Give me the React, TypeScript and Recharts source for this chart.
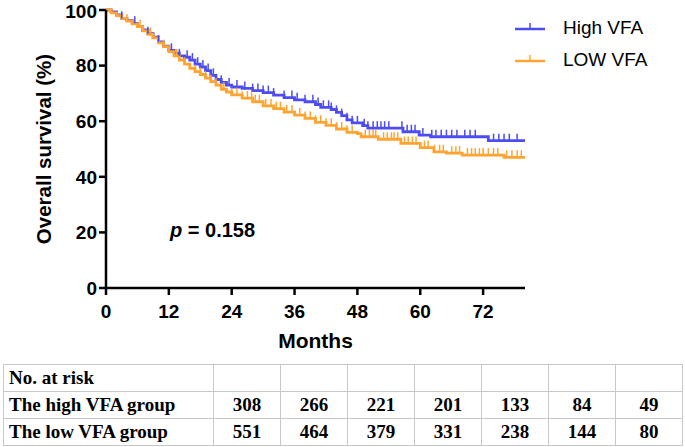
import React from 'react';
import { LineChart, Line, XAxis, YAxis, Legend } from 'recharts';

const SANS = '"Liberation Sans", Arial, Helvetica, sans-serif';
const SERIF = '"Liberation Serif", "Times New Roman", serif';

const BLUE = '#4c4cf2';
const ORANGE = '#ffa431';

const monthTicks = [0, 12, 24, 36, 48, 60, 72];
const survivalTicks = [0, 20, 40, 60, 80, 100];

const highName = 'High VFA';
const lowName = 'LOW VFA';

const highTimes = [0, 1, 2, 3, 4, 5, 6, 7, 8, 9, 10, 11, 12, 13, 14, 15, 16, 17, 18, 19, 20, 21, 22, 23, 24, 26, 28, 30, 32, 34, 36, 38, 40, 41, 43, 44, 45, 46, 47, 49, 50, 56.7, 59.8, 62, 73, 80];
const highSurv = [100, 99.3, 98.2, 97, 96.2, 95.2, 94, 92.8, 91.5, 90.2, 88.5, 87, 85.5, 84.5, 83.5, 83, 82, 80.5, 79.5, 78.2, 76.5, 75, 74, 73, 72.3, 71.8, 71, 70.3, 69.4, 68.5, 67.7, 67, 66, 65, 64.2, 63.2, 62, 60.5, 59.4, 58.4, 57.5, 56.2, 55, 54.4, 53, 53];

const lowTimes = [0, 1, 2, 3, 4, 5, 6, 7, 8, 9, 10, 11, 12, 13, 14, 15, 16, 17, 18, 19, 20, 21, 22, 23, 24, 26, 28, 30, 32, 34, 36, 38, 40, 42, 44, 46, 48, 48.7, 52, 56.3, 60, 62.6, 65, 68, 76, 80];
const lowSurv = [100, 99, 98, 97, 96, 95, 94, 92.5, 91.2, 90, 88.2, 86.8, 85, 83.5, 82, 80.5, 79, 77.8, 76.8, 75.5, 74.2, 73, 71.5, 70.5, 69.5, 68.3, 67, 65.5, 64.5, 63.3, 62.2, 61, 59.6, 58.5, 57.2, 56, 55.5, 54.4, 53.5, 52, 50.5, 49, 48.5, 47.8, 47, 47];

const highCensor = [3, 5.5, 8, 10, 12.5, 14, 15.5, 16.5, 17.5, 18.5, 19.5, 20.5, 22, 23.5, 25, 26.5, 28, 29, 30, 31, 32, 34, 35.5, 36.5, 38, 39.5, 40.5, 41.5, 42.5, 43, 44, 45, 46, 47, 48, 49.3, 50, 51, 51.8, 52.5, 53.2, 54, 56.5, 57.5, 58.3, 59, 60.5, 62.2, 63, 64, 65, 66, 67, 68.5, 69.5, 70.5, 74, 75, 76, 77, 78.5];
const lowCensor = [4, 6.5, 8.5, 11, 13.5, 15, 17, 18, 19, 20, 21, 22.5, 24, 25, 26, 27, 27.8, 28.5, 29.3, 30.5, 31.5, 32.5, 33.3, 34.5, 35.5, 37, 38, 39, 40, 41, 42, 43, 44, 45, 46, 47, 49.5, 50.3, 51, 51.5, 53, 53.7, 54.5, 55, 55.7, 57, 57.7, 58.5, 59.2, 60.8, 61.5, 62.7, 63.7, 64.4, 66, 66.8, 67.5, 69, 69.8, 70.5, 71.3, 72, 73, 74, 74.8, 76.5, 77.5, 78.5, 79.3];

const riskLabel = 'No. at risk';
const riskGroups = ['The high VFA group', 'The low VFA group'];
const highRisk = [308, 266, 221, 201, 133, 84, 49];
const lowRisk = [551, 464, 379, 331, 238, 144, 80];

const pLabel = '0.158';

const toSeries = (times: number[], surv: number[]) => times.map((t, i) => ({ t, s: surv[i] }));
const stepValue = (times: number[], surv: number[], t: number) => {
  let v = surv[0];
  for (let i = 0; i < times.length; i++) {
    if (times[i] <= t) v = surv[i];
  }
  return v;
};
const toCensor = (cens: number[], times: number[], surv: number[]) =>
  cens.map((t) => ({ t, s: stepValue(times, surv, t) }));

const highData = toSeries(highTimes, highSurv);
const lowData = toSeries(lowTimes, lowSurv);
const highCensorData = toCensor(highCensor, highTimes, highSurv);
const lowCensorData = toCensor(lowCensor, lowTimes, lowSurv);

const makeTick = (color: string) => (props: any) => {
  const { cx, cy, index } = props;
  if (cx == null || cy == null) return <g key={`k${index}`} />;
  return <line key={`c${index}`} x1={cx} y1={cy} x2={cx} y2={cy - 7} stroke={color} strokeWidth={1.5} />;
};

const legendItems = [
  { name: highName, color: BLUE },
  { name: lowName, color: ORANGE },
];

const renderLegend = () => (
  <div style={{ fontFamily: SANS }}>
    {legendItems.map((it) => (
      <div key={it.name} style={{ display: 'flex', alignItems: 'center', height: 32 }}>
        <svg width={36} height={14} style={{ display: 'block' }}>
          <line x1={3} y1={8} x2={33} y2={8} stroke={it.color} strokeWidth={2.5} />
          <line x1={18} y1={8} x2={18} y2={2} stroke={it.color} strokeWidth={1.5} />
        </svg>
        <span style={{ marginLeft: 15, fontSize: 19, color: '#000', lineHeight: '20px' }}>{it.name}</span>
      </div>
    ))}
  </div>
);

const tickStyle = { fill: '#000', fontSize: 19, fontWeight: 'bold' as const, fontFamily: SANS };

const cellBase: React.CSSProperties = {
  border: '1px solid #c8c8c8',
  height: 26,
  padding: 0,
  fontFamily: SERIF,
  fontWeight: 'bold',
  fontSize: 19,
  color: '#000',
};

export default function App() {
  return (
    <div style={{ position: 'absolute', left: 0, top: 0, width: 685, height: 447, background: '#fff', overflow: 'hidden' }}>
      <LineChart width={685} height={360} margin={{ top: 10, right: 160, bottom: 0, left: 0 }}>
        <XAxis
          dataKey="t"
          type="number"
          domain={[0, 80]}
          ticks={monthTicks}
          height={72}
          tickSize={7}
          tickMargin={10}
          axisLine={{ stroke: '#000', strokeWidth: 2.5 }}
          tickLine={{ stroke: '#000', strokeWidth: 2.5 }}
          tick={tickStyle}
          allowDuplicatedCategory={false}
          label={(p: any) => {
            const vb = p.viewBox || { x: 106, width: 419 };
            return (
              <text x={vb.x + vb.width / 2} y={340} textAnchor="middle" dominantBaseline="central" fontFamily={SANS} fontWeight="bold" fontSize={21} fill="#000">
                Months
              </text>
            );
          }}
        />
        <YAxis
          type="number"
          domain={[0, 100]}
          ticks={survivalTicks}
          width={106}
          tickSize={7}
          tickMargin={2}
          axisLine={{ stroke: '#000', strokeWidth: 2.5 }}
          tickLine={{ stroke: '#000', strokeWidth: 2.5 }}
          tick={tickStyle}
          label={(p: any) => {
            const vb = p.viewBox || { y: 10, height: 278 };
            const cy = vb.y + vb.height / 2;
            return (
              <text x={43} y={cy} transform={`rotate(-90 43 ${cy})`} textAnchor="middle" dominantBaseline="central" fontFamily={SANS} fontWeight="bold" fontSize={20.5} fill="#000">
                Overall survival (%)
              </text>
            );
          }}
        />
        <Legend
          layout="vertical"
          align="center"
          verticalAlign="middle"
          content={renderLegend}
          wrapperStyle={{ left: 512, top: 12, width: 170, height: 70 }}
        />
        <Line data={highData} dataKey="s" type="stepAfter" stroke={BLUE} strokeWidth={2.8} dot={false} activeDot={false} isAnimationActive={false} name={highName} />
        <Line data={highCensorData} dataKey="s" stroke="none" dot={makeTick(BLUE)} activeDot={false} isAnimationActive={false} legendType="none" name="highCensor" />
        <Line data={lowData} dataKey="s" type="stepAfter" stroke={ORANGE} strokeWidth={2.8} dot={false} activeDot={false} isAnimationActive={false} name={lowName} />
        <Line data={lowCensorData} dataKey="s" stroke="none" dot={makeTick(ORANGE)} activeDot={false} isAnimationActive={false} legendType="none" name="lowCensor" />
      </LineChart>
      <div style={{ position: 'absolute', left: 170, top: 220, fontFamily: SANS, fontWeight: 'bold', fontSize: 20, lineHeight: '20px', color: '#000', whiteSpace: 'nowrap' }}>
        <span style={{ fontStyle: 'italic' }}>p</span> = {pLabel}
      </div>
      <table style={{ position: 'absolute', left: 3, top: 364, width: 680, borderCollapse: 'collapse', tableLayout: 'fixed' }}>
        <colgroup>
          <col style={{ width: 210 }} />
          {highRisk.map((_, i) => (
            <col key={i} style={{ width: 67 }} />
          ))}
        </colgroup>
        <tbody>
          <tr>
            <td style={{ ...cellBase, paddingLeft: 5 }}>{riskLabel}</td>
            {highRisk.map((_, i) => (
              <td key={i} style={cellBase} />
            ))}
          </tr>
          <tr>
            <td style={{ ...cellBase, paddingLeft: 5 }}>{riskGroups[0]}</td>
            {highRisk.map((v, i) => (
              <td key={i} style={{ ...cellBase, textAlign: 'center' }}>{v}</td>
            ))}
          </tr>
          <tr>
            <td style={{ ...cellBase, paddingLeft: 5 }}>{riskGroups[1]}</td>
            {lowRisk.map((v, i) => (
              <td key={i} style={{ ...cellBase, textAlign: 'center' }}>{v}</td>
            ))}
          </tr>
        </tbody>
      </table>
    </div>
  );
}
